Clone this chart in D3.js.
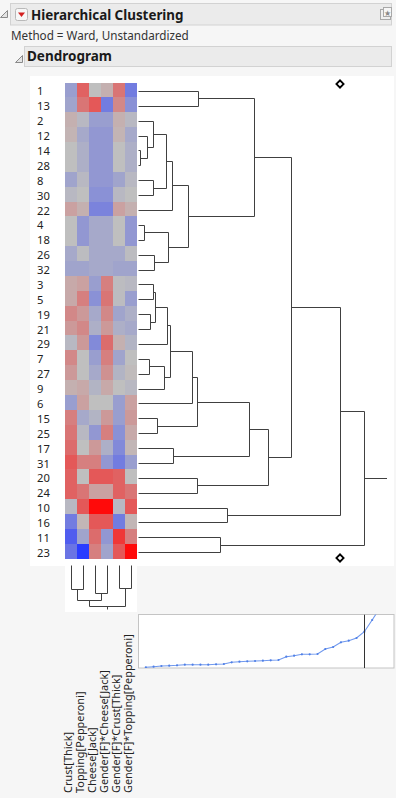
<!DOCTYPE html>
<html><head><meta charset="utf-8">
<script src="https://cdn.jsdelivr.net/npm/d3@7"></script>
<style>
html,body{margin:0;padding:0;background:#f6f6f6;}
svg{display:block;}
text{font-family:"Noto Sans","Open Sans",sans-serif;fill:#1a1a1a;}
</style></head><body>
<svg id="c" width="396" height="798"></svg>
<script>
// ---------------- data ----------------
const title = "Hierarchical Clustering";
const methodText = "Method = Ward, Unstandardized";
const sectionTitle = "Dendrogram";

const rowLabels = ["1","13","2","12","14","28","8","30","22","4","18","26","32","3","5","19","21","29","7","27","9","6","15","25","17","31","20","24","10","16","11","23"];
const columns = ["Crust[Thick]","Topping[Pepperoni]","Cheese[Jack]","Gender[F]*Cheese[Jack]","Gender[F]*Crust[Thick]","Gender[F]*Topping[Pepperoni]"];

// standardized cell values, one row per leaf (in rowLabels order), columns in `columns` order
const cellValues = [
  [-0.35, 0.6, 0, 0.15, 0.5, -0.6],
  [-0.3, 0.5, 0.65, -0.6, 0.4, -0.45],
  [0.15, -0.1, -0.35, -0.35, 0.15, -0.1],
  [0.12, -0.25, -0.4, -0.4, 0.12, -0.25],
  [0, -0.2, -0.4, -0.4, 0, -0.2],
  [0, -0.2, -0.4, -0.4, 0, -0.2],
  [-0.3, -0.1, -0.4, -0.4, -0.3, -0.1],
  [-0.1, 0, -0.45, -0.45, -0.1, 0],
  [0.25, 0.15, -0.55, -0.55, 0.25, 0.15],
  [0, -0.4, -0.25, -0.25, 0, -0.4],
  [0, -0.4, -0.25, -0.25, 0, -0.4],
  [-0.25, -0.05, -0.25, -0.25, -0.25, -0.05],
  [-0.3, -0.3, -0.25, -0.25, -0.3, -0.3],
  [0.2, 0.25, -0.35, 0.45, -0.05, -0.1],
  [0.2, 0.45, -0.45, 0.5, -0.05, -0.35],
  [0.4, 0.3, -0.25, 0.4, -0.3, -0.2],
  [0.3, 0.4, -0.2, 0.3, -0.2, -0.25],
  [-0.1, 0.3, -0.5, 0.55, 0.15, -0.15],
  [0.4, 0, -0.35, 0.45, -0.3, 0],
  [0.3, 0, -0.25, 0.35, -0.15, 0.05],
  [0.15, 0.2, -0.15, 0.2, 0, -0.1],
  [-0.35, 0.25, 0, 0, -0.35, 0.25],
  [0.45, -0.25, -0.15, 0.3, -0.35, 0.3],
  [0.5, -0.1, -0.4, 0.45, -0.45, 0.2],
  [0.55, 0, 0.3, -0.2, -0.5, 0.1],
  [0.65, 0.45, 0.45, -0.4, -0.6, -0.35],
  [0.6, 0, 0.65, 0.65, 0.6, 0],
  [0.6, 0.5, 0.25, 0.25, 0.6, 0.5],
  [-0.1, 0.65, 1, 1, -0.1, 0.65],
  [-0.6, 0.1, 0.65, 0.65, -0.6, 0.1],
  [-0.8, -0.3, 0.55, -0.4, 0.8, 0.45],
  [-0.65, -1, 0.45, -0.3, 0.65, 1]
];

// row joins: [childA, childB, distance]; string = leaf label, number = index of earlier join
const rowMerges = [
  ["14","28",3], ["4","18",6.3], ["12",0,9.7], ["7","27",11], ["19","21",12],
  ["2",2,15.3], ["8","30",15.3], ["3","5",15.3], ["26","32",16.3], [7,4,17.7],
  ["15","25",19.3], [3,"9",26.3], [5,6,28], [9,"29",29.3], [1,8,30.3],
  [13,11,32], [12,"22",34.7], ["17","31",35.3], [16,14,50.3], [15,"6",54.3],
  [19,10,59.3], ["20","24",59.3], ["1","13",60.3], ["11","23",82], ["10","16",89.7],
  [20,17,111], [22,18,116.3], [25,21,130], [26,27,153.7], [28,24,202.7], [29,23,226]
];

// column joins: [childA, childB, distance]
const colMerges = [
  ["Crust[Thick]","Topping[Pepperoni]",24.3],
  ["Gender[F]*Crust[Thick]","Gender[F]*Topping[Pepperoni]",23.3],
  ["Cheese[Jack]","Gender[F]*Cheese[Jack]",28.3],
  [0,2,35],
  [3,1,41.7]
];

// scree plot: join distance for each join number 1..31
const screeDistances = [0.7,1.3,2,2.3,2.7,3.3,3.3,3.3,3.3,3.7,4,5.7,6.3,6.7,7,7.3,7.7,8,11.3,12.3,13.7,13.7,14,19,21,25.7,27.3,30,36.3,48,60];

const nClusters = 3;

// ---------------- drawing ----------------
const svg = d3.select("#c");
const lineCol = "#404040";

function fit(sel, target){
  const w = sel.node().getComputedTextLength();
  const fs = parseFloat(sel.attr("font-size"));
  const nfs = fs * target / w;
  sel.attr("font-size", nfs);
  return nfs;
}

// header bar
svg.append("path").attr("d","M7.5,10.5 L7.5,17.5 L0.5,17.5 Z").attr("fill","#e4e4e4").attr("stroke","#8a8a8a");
svg.append("rect").attr("x",10.5).attr("y",3.5).attr("width",381).attr("height",21.5)
  .attr("fill","#ebebeb").attr("stroke","#d2d2d2");
svg.append("rect").attr("x",15.5).attr("y",8.5).attr("width",12).attr("height",12).attr("rx",2)
  .attr("fill","#f7f7f7").attr("stroke","#b9b9b9");
svg.append("path").attr("d","M18,12.5 L25,12.5 L21.5,17 Z").attr("fill","#d42020");
const t1 = svg.append("text").attr("x",31).attr("y",19.5).attr("font-weight","bold").attr("font-size",14).text(title);
fit(t1,152.7);
svg.append("rect").attr("x",380.5).attr("y",9.5).attr("width",10).attr("height",10).attr("fill","#efefef").attr("stroke","#a8a8a8");
svg.append("rect").attr("x",383.5).attr("y",7.5).attr("width",8).attr("height",9).attr("fill","#f6f6f6").attr("stroke","#a8a8a8");
svg.append("text").attr("x",387.5).attr("y",15.5).attr("text-anchor","middle").attr("font-size",8).style("fill","#8a8a8a").text("★");

const t2 = svg.append("text").attr("x",11).attr("y",39.5).attr("font-size",12).style("fill","#333").text(methodText);
fit(t2,178);

svg.append("path").attr("d","M22.5,55.5 L22.5,62.5 L15.5,62.5 Z").attr("fill","#e4e4e4").attr("stroke","#8a8a8a");
svg.append("rect").attr("x",24.5).attr("y",46.5).attr("width",367).attr("height",20)
  .attr("fill","#ebebeb").attr("stroke","#d2d2d2");
const t3 = svg.append("text").attr("x",27).attr("y",60.5).attr("font-weight","bold").attr("font-size",14).text(sectionTitle);
fit(t3,85);

// white panel
svg.append("rect").attr("x",30).attr("y",76).attr("width",364).attr("height",490).attr("fill","#fff");

// heat map
const xCol = d3.scaleBand().domain(columns).range([65,137]);
const yRow = d3.scaleBand().domain(rowLabels).range([82.5,558.7]);
const ramp = d3.scaleLinear().domain([-1,0,1]).range(["#2a3cff","#bfbfbf","#ff0a0a"]).clamp(true);
const color = v => ramp(Math.sign(v) * Math.pow(Math.abs(v), 1.3));

const cells = [];
rowLabels.forEach((r,i)=>columns.forEach((c,j)=>cells.push({r,c,v:cellValues[i][j]})));
svg.append("g").attr("shape-rendering","crispEdges").selectAll("rect").data(cells).join("rect")
  .attr("x",d=>xCol(d.c)).attr("y",d=>yRow(d.r))
  .attr("width",xCol.bandwidth()).attr("height",yRow.bandwidth()+0.5)
  .attr("fill",d=>color(d.v));

// row labels
const rowFont = 11.2;
const leafY = r => yRow(r) + yRow.bandwidth()/2 + 1.5;
svg.append("g").selectAll("text").data(rowLabels).join("text")
  .attr("x",37).attr("y",d=>leafY(d)).attr("dy","0.36em").attr("font-size",rowFont).style("fill","#222").text(d=>d);

// row dendrogram
const xDist = d3.scaleLinear().domain([0,249]).range([138,387]);
const nodes = [];
const pos = c => typeof c === "string" ? {x:xDist(0), y:leafY(c)} : nodes[c];
const crisp = v => Math.round(v - 0.5) + 0.5;
const dg = svg.append("g").attr("fill","none").attr("stroke",lineCol).attr("stroke-width",1);
rowMerges.forEach(([a,b,h])=>{
  const pa = pos(a), pb = pos(b);
  const x = xDist(h);
  const n = {x, y:(pa.y+pb.y)/2};
  nodes.push(n);
  dg.append("path").attr("d",
    `M${crisp(pa.x)},${crisp(pa.y)}H${crisp(x)}V${crisp(pb.y)}H${crisp(pb.x)}`);
});
const root = nodes[nodes.length-1];
dg.append("path").attr("d",`M${crisp(root.x)},${crisp(root.y)}H${xDist.range()[1]}`);

// cut diamonds
const cutX = xDist(rowMerges[rowLabels.length - nClusters][2]) - 0.7;
const diamond = d3.symbol().type(d3.symbolSquare).size(26);
[yRow.range()[0]+1.5, yRow.range()[1]-0.7].forEach(y=>{
  svg.append("path").attr("d",diamond()).attr("transform",`translate(${cutX},${y}) rotate(45)`)
    .attr("fill","#fff").attr("stroke","#000").attr("stroke-width",1.8);
});

// column dendrogram
svg.append("rect").attr("x",65).attr("y",566).attr("width",72).attr("height",46).attr("fill","#fff");
const yDist = d3.scaleLinear().domain([0,50]).range([565,615]);
const cnodes = [];
const cpos = c => typeof c === "string" ? {x:xCol(c)+xCol.bandwidth()/2, y:yDist(0)} : cnodes[c];
const cg = svg.append("g").attr("fill","none").attr("stroke",lineCol).attr("stroke-width",1);
colMerges.forEach(([a,b,h])=>{
  const pa = cpos(a), pb = cpos(b);
  const y = yDist(h);
  const n = {x:(pa.x+pb.x)/2, y};
  cnodes.push(n);
  cg.append("path").attr("d",`M${crisp(pa.x)},${crisp(pa.y)}V${crisp(y)}H${crisp(pb.x)}V${crisp(pb.y)}`);
});
const croot = cnodes[cnodes.length-1];
cg.append("path").attr("d",`M${crisp(croot.x)},${crisp(croot.y)}V${crisp(croot.y)+3}`);

// column labels
const cl = svg.append("g").selectAll("text").data(columns).join("text")
  .attr("transform",d=>`translate(${xCol(d)+xCol.bandwidth()/2-3.3},793) rotate(-90)`)
  .attr("dy","0.36em").attr("font-size",12).style("fill","#222").text(d=>d);
const last = cl.filter(d=>d===columns[columns.length-1]);
const cfs = fit(last,159);
cl.attr("font-size",cfs);

// scree plot
const sx = d3.scaleLinear().domain([0,32.8]).range([138,394]);
const sy = d3.scaleLinear().domain([0,53.7]).range([668,614.3]);
svg.append("defs").append("clipPath").attr("id","sc").append("rect")
  .attr("x",138.5).attr("y",614.5).attr("width",255.5).attr("height",53.5);
svg.append("rect").attr("x",138.5).attr("y",614.5).attr("width",255.5).attr("height",53.5)
  .attr("fill","#fff").attr("stroke","#c4c4c4");
const sg = svg.append("g").attr("clip-path","url(#sc)");
const spts = screeDistances.map((d,i)=>[sx(i+1), sy(d)]);
sg.append("path").attr("d",d3.line()(spts)).attr("fill","none").attr("stroke","#6f98ee").attr("stroke-width",1.1);
sg.selectAll("circle").data(spts).join("circle").attr("cx",d=>d[0]).attr("cy",d=>d[1]).attr("r",1.1).attr("fill","#4f7fe6");
const cutIdx = rowLabels.length - nClusters;
sg.append("line").attr("x1",crisp(sx(cutIdx))).attr("x2",crisp(sx(cutIdx))).attr("y1",614.5).attr("y2",668)
  .attr("stroke","#333").attr("stroke-width",1);
</script>
</body></html>
